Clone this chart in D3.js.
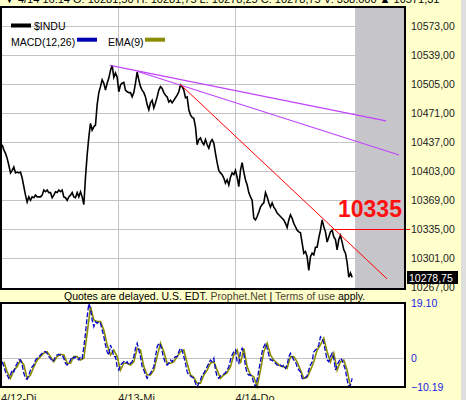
<!DOCTYPE html>
<meta charset="utf-8">
<style>
body { margin: 0; background: #ffffcc; }
svg { display: block; font-family: "Liberation Sans", Arial, sans-serif; }
</style>
<body>
<script src="https://cdn.jsdelivr.net/npm/d3@7"></script>
<script>
var width = 466, height = 400;

// $INDU intraday, 3 trading days, evenly sampled
var priceValues = [
  10434,10428,10424,10418,10410,10401,10404,10408,10401,10402,
  10401,10402,10395,10385,10375,10367,10373,10369,10373,10372,
  10375,10373,10373,10373,10375,10381,10379,10381,10378,10378,
  10372,10375,10379,10378,10381,10379,10381,10373,10372,10369,
  10373,10375,10378,10373,10372,10378,10373,10379,10373,10364,
  10396,10422,10443,10459,10451,10455,10457,10481,10495,10502,
  10510,10506,10498,10506,10512,10521,10527,10513,10518,10513,
  10496,10504,10506,10507,10498,10496,10495,10495,10490,10495,
  10506,10519,10510,10502,10498,10495,10490,10481,10475,10483,
  10486,10477,10483,10490,10498,10502,10500,10495,10492,10490,
  10484,10486,10483,10486,10489,10492,10496,10504,10502,10498,
  10489,10490,10475,10469,10466,10465,10455,10434,10440,10442,
  10437,10434,10440,10434,10430,10437,10440,10436,10424,10413,
  10404,10401,10399,10395,10389,10393,10387,10396,10401,10399,
  10404,10396,10385,10404,10413,10402,10393,10387,10378,10373,
  10369,10348,10346,10350,10355,10361,10364,10366,10378,10373,
  10366,10361,10366,10361,10358,10354,10352,10350,10348,10346,
  10342,10337,10346,10352,10348,10342,10338,10334,10332,10331,
  10319,10307,10309,10303,10287,10303,10307,10305,10314,10314,
  10325,10334,10346,10338,10332,10320,10326,10332,10334,10326,
  10323,10311,10323,10328,10320,10311,10307,10296,10279,10284,
  10278.75
];

// MACD(12,26), same sampling
var macdValues = [
  -1.37,-3.11,-4.86,-6.01,-7.16,-6.01,-4.26,-4.86,-3.11,-1.93,
  -0.78,-0.78,-2.52,-5.41,-7.16,-7.51,-6.01,-4.26,-3.11,-2.52,
  -0.78,-0.18,0.37,0.97,1.56,2.12,2.12,1.56,0.37,-0.18,
  -1.37,-0.78,0.37,0.97,1.21,0.97,0.97,-0.18,-1.93,-2.52,
  -1.93,-0.78,0.37,-0.18,0.37,-0.18,-0.78,0.37,-0.18,3.86,
  8.53,14.32,18.9,17.25,13.17,10.84,12.58,12.02,12.58,12.02,
  9.68,7.35,4.45,2.12,0.97,4.45,2.71,0.37,0.37,-3.11,
  -4.26,-2.52,-1.93,-1.37,-1.93,-1.37,-2.52,-1.93,-1.37,0.37,
  3.30,5.05,2.71,0.37,-3.11,-4.26,-6.01,-7.16,-6.01,-5.41,
  -4.26,-3.11,0.37,3.86,5.05,4.45,2.12,-0.18,-1.93,-2.52,
  -1.93,-0.78,-1.37,-0.18,0.37,0.37,2.12,3.30,2.71,0.37,
  -1.93,-4.86,-6.01,-6.35,-6.81,-7.16,-8.90,-10.09,-8.90,-7.75,
  -6.01,-5.41,-4.26,-3.11,-1.93,-0.78,-1.37,-0.18,-4.26,-6.60,
  -7.16,-6.35,-6.01,-5.66,-5.20,-4.26,-3.11,-0.78,0.97,2.12,
  2.71,-1.37,-1.93,2.12,3.30,1.56,-3.11,-5.41,-6.01,-6.01,
  -6.60,-8.90,-10.09,-7.75,-4.26,-1.37,2.12,3.86,5.05,3.30,
  0.97,-0.78,-0.78,-1.37,-1.93,-2.52,-2.87,-2.52,-3.11,-2.52,
  -3.67,-2.52,0.37,1.56,0.37,-0.78,-1.37,-3.11,-4.26,-4.86,
  -7.16,-7.51,-6.81,-6.35,-4.26,-2.52,-1.37,2.12,2.71,3.30,
  4.45,7.35,6.79,5.05,2.12,-0.78,-1.37,0.37,1.56,-0.18,
  -4.26,-2.52,-1.37,-0.18,-0.78,-2.52,-4.26,-7.75,-10.09,-9.49,
  -7.16
];

// EMA(9), read at every second sample
var emaValues = [
  -1.4,-4.9,-7.2,-4.3,-3.1,-0.8,-2.5,-7.2,-6.0,-3.1,
  -0.8,0.4,1.6,2.1,0.4,-1.4,0.4,1.2,1.0,-1.9,
  -1.9,0.4,0.4,-0.8,-0.2,8.5,17.8,13.2,12.6,12.6,
  9.7,4.5,1.0,2.7,0.4,-4.3,-1.9,-1.9,-2.5,-1.4,
  3.3,2.7,-3.1,-6.0,-6.0,-4.3,0.4,5.1,2.1,-1.9,
  -1.9,-1.4,0.4,2.1,2.7,-1.9,-6.0,-6.8,-8.9,-8.9,
  -6.0,-4.3,-1.9,-1.4,-4.3,-7.2,-6.0,-5.2,-3.1,1.0,
  2.7,-1.9,3.3,-3.1,-6.0,-6.6,-10.1,-4.3,2.1,5.1,
  1.0,-0.8,-1.9,-2.9,-3.1,-3.7,0.4,0.4,-1.4,-4.3,
  -7.2,-6.8,-4.3,-1.4,2.7,4.5,6.8,2.1,-1.4,1.6,
  -4.3,-1.4,-0.8,-4.3,-10.1
];

var dayLabels = ["4/12-Di", "4/13-Mi", "4/14-Do"];
var priceTicks = [10573, 10539, 10505, 10471, 10437, 10403, 10369, 10335, 10301, 10267];
var macdTicks = [19.10, 0, -10.19];
var lastPrice = 10278.75;
var markLevel = 10335;
// trendlines, [day, price]
var purpleLines = [
  [[0.934, 10527], [3.289, 10462]],
  [[1.165, 10520], [3.400, 10422]]
];
var redLine = [[1.531, 10505], [3.298, 10277]];
var markStart = 2.829;
var closedFrom = 3.025;

var svg = d3.select("body").append("svg")
    .attr("width", width)
    .attr("height", height);

var left = 1, right = 405;
var pTop = 7, pBottom = 289;
var mTop = 303, mBottom = 387;

var x = d3.scaleLinear().domain([0, 3.44]).range([0.5, 403.7]);
var yP = d3.scaleLinear().domain([10267, 10573]).range([287.4, 26]);
var yM = d3.scaleLinear().domain([-10.19, 19.10]).range([387, 303]);

var n = priceValues.length;
function tOf(k) { return k * 3 / n; }

// grey strip at far right
svg.append("rect").attr("x", 461).attr("y", 0).attr("width", 5).attr("height", height)
    .attr("fill", "#dedede");

// header row (mostly cut off at top)
svg.append("text").attr("x", 4).attr("y", 2.5)
    .attr("font-size", 11).attr("fill", "#000")
    .text("\u25BC 4/14 16:14  O: 10281,50  H: 10281,75  L: 10278,25  C: 10278,75  V: 338.000  \u25B2 10571,31");

svg.append("clipPath").attr("id", "clipP")
  .append("rect").attr("x", left).attr("y", pTop).attr("width", right - left).attr("height", pBottom - pTop);

// ---- price panel ----
svg.append("rect").attr("x", left).attr("y", pTop).attr("width", right - left).attr("height", pBottom - pTop)
    .attr("fill", "#fff");

svg.append("g").selectAll("line")
    .data(priceTicks.slice(0, -1))
    .enter().append("line")
    .attr("x1", left).attr("x2", right)
    .attr("y1", function(d) { return Math.round(yP(d)) + 0.5; })
    .attr("y2", function(d) { return Math.round(yP(d)) + 0.5; })
    .attr("stroke", "#c4c4c4");

svg.append("g").selectAll("line")
    .data([1, 2])
    .enter().append("line")
    .attr("x1", function(d) { return Math.round(x(d)) + 0.5; })
    .attr("x2", function(d) { return Math.round(x(d)) + 0.5; })
    .attr("y1", pTop).attr("y2", pBottom)
    .attr("stroke", "#c4c4c4");

svg.append("rect")
    .attr("x", x(closedFrom)).attr("y", pTop)
    .attr("width", right - x(closedFrom)).attr("height", pBottom - pTop)
    .attr("fill", "#c6c5c9");

// legend
svg.append("rect").attr("x", 11).attr("y", 23.5).attr("width", 20).attr("height", 4).attr("fill", "#000");
svg.append("text").attr("x", 34).attr("y", 29.5).attr("font-size", 10.5).text("$INDU");
svg.append("text").attr("x", 11).attr("y", 45.5).attr("font-size", 10.5).text("MACD(12,26)");
svg.append("rect").attr("x", 77).attr("y", 37.7).attr("width", 20).attr("height", 4).attr("fill", "#0000b4");
svg.append("text").attr("x", 108).attr("y", 45.5).attr("font-size", 10.5).text("EMA(9)");
svg.append("rect").attr("x", 145).attr("y", 37.7).attr("width", 20).attr("height", 4).attr("fill", "#8c8c00");

var priceLine = d3.line()
    .x(function(d, i) { return x(tOf(i + 1)); })
    .y(function(d) { return yP(d); });

svg.append("path")
    .datum(priceValues)
    .attr("clip-path", "url(#clipP)")
    .attr("d", priceLine)
    .attr("fill", "none")
    .attr("stroke", "#000")
    .attr("stroke-width", 1.6);

var trend = d3.line()
    .x(function(d) { return x(d[0]); })
    .y(function(d) { return yP(d[1]); });

svg.append("g").selectAll("path")
    .data(purpleLines)
    .enter().append("path")
    .attr("d", trend)
    .attr("stroke", "#c144ff")
    .attr("stroke-width", 1.2)
    .attr("fill", "none");

svg.append("path")
    .datum(redLine)
    .attr("d", trend)
    .attr("stroke", "#ff0000")
    .attr("stroke-width", 1)
    .attr("fill", "none");

svg.append("line")
    .attr("x1", x(markStart)).attr("x2", 410)
    .attr("y1", Math.round(yP(markLevel)) + 0.5).attr("y2", Math.round(yP(markLevel)) + 0.5)
    .attr("stroke", "#ff0000")
    .attr("stroke-width", 1);

svg.append("text")
    .attr("x", 338).attr("y", 217)
    .attr("font-size", 23).attr("font-weight", "bold")
    .attr("fill", "#ff1010")
    .text(markLevel);

svg.append("rect").attr("x", left).attr("y", pTop).attr("width", right - left).attr("height", pBottom - pTop)
    .attr("fill", "none").attr("stroke", "#000").attr("stroke-width", 2);

// price axis
var fmtP = function(d) { return d3.format(".2f")(d).replace(".", ","); };
var axP = svg.append("g")
    .attr("transform", "translate(408,0)")
    .call(d3.axisRight(yP).tickValues(priceTicks).tickFormat(fmtP).tickSize(0).tickPadding(3));
axP.select(".domain").remove();
axP.selectAll("text").attr("font-size", 10.5).attr("fill", "#222")
    .attr("font-family", "'Liberation Sans', Arial, sans-serif");

svg.append("rect").attr("x", 407).attr("y", 271).attr("width", 51).attr("height", 13).attr("fill", "#000");
svg.append("text").attr("x", 409).attr("y", 281.5).attr("font-size", 10.5).attr("fill", "#fff")
    .text(fmtP(lastPrice));

// footer note
var note = svg.append("text").attr("x", 64).attr("y", 300).attr("font-size", 10.5).attr("fill", "#000");
note.append("tspan").text("Quotes are delayed. U.S. EDT. ");
note.append("tspan").attr("fill", "#4c4430").text("Prophet.Net");
note.append("tspan").text(" | ");
note.append("tspan").attr("fill", "#4c4430").text("Terms of use");
note.append("tspan").text(" apply.");

// ---- MACD panel ----
svg.append("rect").attr("x", left).attr("y", mTop).attr("width", right - left).attr("height", mBottom - mTop)
    .attr("fill", "#fff");

svg.append("line")
    .attr("x1", left).attr("x2", right)
    .attr("y1", Math.round(yM(0)) + 0.5).attr("y2", Math.round(yM(0)) + 0.5)
    .attr("stroke", "#c4c4c4");

svg.append("g").selectAll("line")
    .data([1, 2])
    .enter().append("line")
    .attr("x1", function(d) { return Math.round(x(d)) + 0.5; })
    .attr("x2", function(d) { return Math.round(x(d)) + 0.5; })
    .attr("y1", mTop).attr("y2", mBottom)
    .attr("stroke", "#c4c4c4");

var emaLine = d3.line()
    .x(function(d, i) { return x(tOf(2 * i + 2)); })
    .y(function(d) { return yM(d); });
var macdLine = d3.line()
    .x(function(d, i) { return x(tOf(i + 1)); })
    .y(function(d) { return yM(d); });

svg.append("path").datum(emaValues).attr("d", emaLine)
    .attr("fill", "none").attr("stroke", "#8c8c00").attr("stroke-width", 1.6);
svg.append("path").datum(macdValues).attr("d", macdLine)
    .attr("fill", "none").attr("stroke", "#0000c8").attr("stroke-width", 1.3)
    .attr("stroke-dasharray", "5,2");

svg.append("rect").attr("x", left).attr("y", mTop).attr("width", right - left).attr("height", mBottom - mTop)
    .attr("fill", "none").attr("stroke", "#000").attr("stroke-width", 2);

var axM = svg.append("g")
    .attr("transform", "translate(408,0)")
    .call(d3.axisRight(yM).tickValues(macdTicks).tickFormat(function(d) { return d === 0 ? "0" : d3.format(".2f")(d); }).tickSize(0).tickPadding(3));
axM.select(".domain").remove();
axM.selectAll("text").attr("font-size", 10.5).attr("fill", "#1a1ae6")
    .attr("font-family", "'Liberation Sans', Arial, sans-serif");

// day labels
svg.append("g").selectAll("text")
    .data(dayLabels)
    .enter().append("text")
    .attr("x", function(d, i) { return x(i) + 0.5; })
    .attr("y", 402)
    .attr("font-size", 11)
    .attr("fill", "#222")
    .text(function(d) { return d; });
</script>
</body>
</html>
